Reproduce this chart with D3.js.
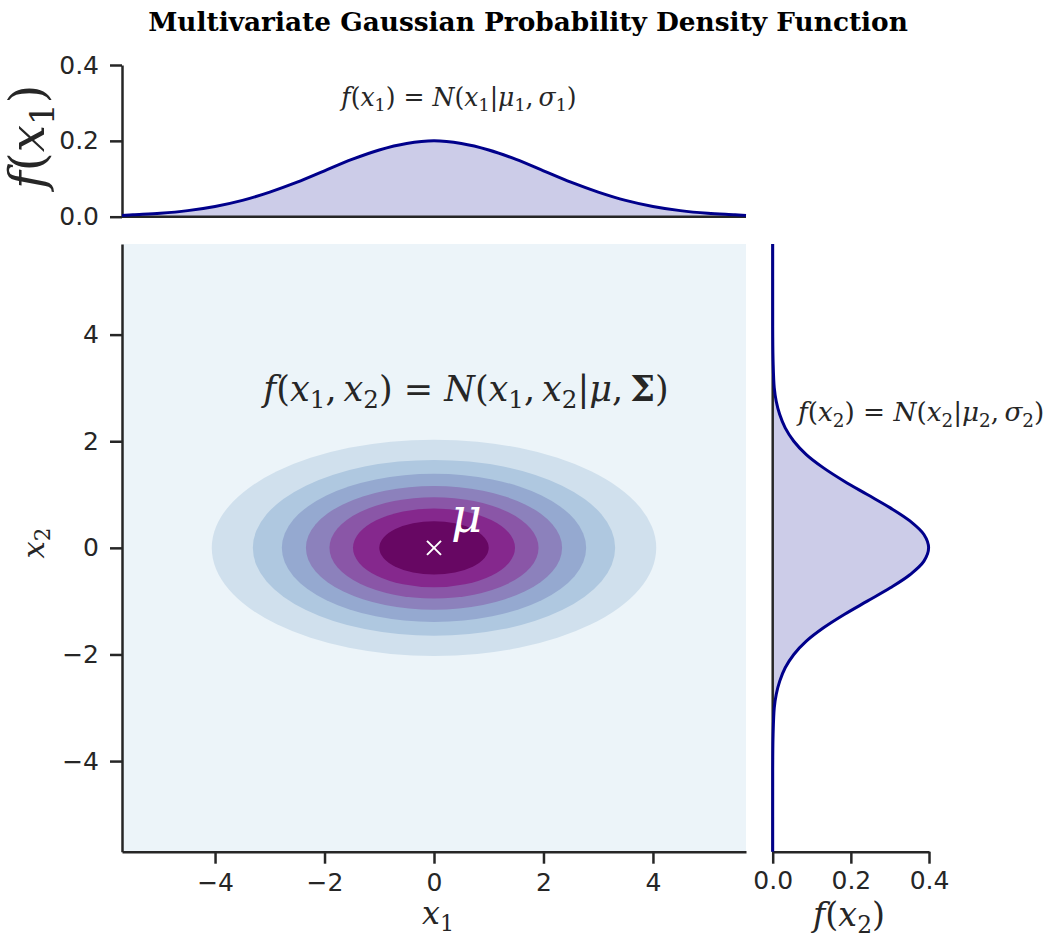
<!DOCTYPE html>
<html>
<head>
<meta charset="utf-8">
<script src="https://cdn.jsdelivr.net/npm/d3@7"></script>
<style>
  html, body { margin: 0; padding: 0; background: #ffffff; }
  svg { display: block; }
</style>
</head>
<body>
<svg id="chart" width="1053" height="938"></svg>
<script>
// ---- data ----------------------------------------------------------------
// density levels that bound the filled contour bands
const contourLevels = [0.00, 0.01, 0.02, 0.03, 0.04, 0.05, 0.06, 0.07, 0.08];
// half-width (along x1) and half-height (along x2) of each level's ellipse, levels 0.01 .. 0.07
const ellipseHalfX1 = [4.06, 3.31, 2.78, 2.34, 1.91, 1.48, 1.00];
const ellipseHalfX2 = [2.03, 1.65, 1.39, 1.16, 0.95, 0.74, 0.50];
const meanPoint = [0, 0];

// marginal density of x1
const x1Grid = [-5.7, -5.5, -5.0, -4.5, -4.0, -3.5, -3.0, -2.5, -2.0, -1.5, -1.0, -0.5, 0.0,
                0.5, 1.0, 1.5, 2.0, 2.5, 3.0, 3.5, 4.0, 4.5, 5.0, 5.5, 5.7];
const f1Values = [0.003, 0.005, 0.009, 0.016, 0.027, 0.043, 0.065, 0.091, 0.121, 0.151, 0.176, 0.193, 0.200,
                  0.193, 0.176, 0.151, 0.121, 0.091, 0.065, 0.043, 0.027, 0.016, 0.009, 0.005, 0.003];

// marginal density of x2
const x2Grid = [-5.7, -4.5, -4.0, -3.5, -3.0, -2.75, -2.5, -2.25, -2.0, -1.75, -1.5, -1.25, -1.0, -0.75, -0.5, -0.25, 0.0,
                0.25, 0.5, 0.75, 1.0, 1.25, 1.5, 1.75, 2.0, 2.25, 2.5, 2.75, 3.0, 3.5, 4.0, 4.5, 5.7];
const f2Values = [0.000, 0.000, 0.0001, 0.001, 0.004, 0.009, 0.018, 0.032, 0.054, 0.086, 0.130, 0.183, 0.242, 0.301, 0.352, 0.387, 0.399,
                  0.387, 0.352, 0.301, 0.242, 0.183, 0.130, 0.086, 0.054, 0.032, 0.018, 0.009, 0.004, 0.001, 0.0001, 0.000, 0.000];

const mainTicks = [-4, -2, 0, 2, 4];
const densityTicks = [0.0, 0.2, 0.4];
const bupuStops = ["#f7fcfd", "#e0ecf4", "#bfd3e6", "#9ebcda", "#8c96c6", "#8c6bb1", "#88419d", "#810f7c", "#4d004b"];

// ---- layout ---------------------------------------------------------------
const svg = d3.select("#chart");
const INK = "#262626";
const LINE = "#00008b";
const FILL = "#ccccE8";
const TICK_FONT = "'DejaVu Sans', sans-serif";
const MATH_FONT = "'DejaVu Serif', serif";
const THIN = "\u2009";

const main = { left: 122, right: 746, top: 244, bottom: 851.7 };
const topM = { top: 65, bottom: 216.7 };
const rightM = { left: 772.7, right: 929 };

const x = d3.scaleLinear().domain([-5.7, 5.7]).range([main.left, main.right]);
const y = d3.scaleLinear().domain([-5.7, 5.7]).range([main.bottom, main.top]);
const yTop = d3.scaleLinear().domain([0, 0.4]).range([topM.bottom, topM.top]);
const xRight = d3.scaleLinear().domain([0, 0.4]).range([rightM.left, rightM.right]);

// BuPu colormap: linear blend of the 9 ColorBrewer stops
const bupu = d3.scaleLinear()
  .domain(d3.range(bupuStops.length).map(i => i / (bupuStops.length - 1)))
  .range(bupuStops)
  .interpolate(d3.interpolateRgb);
const lvMin = d3.min(contourLevels), lvMax = d3.max(contourLevels);
const bandColor = i => bupu(((contourLevels[i] + contourLevels[i + 1]) / 2 - lvMin) / (lvMax - lvMin));

// ---- math-style text -------------------------------------------------------
// segments: [text, kind] with kind: "i" italic, "r" roman, "b" bold, "s" subscript
function mathText(g, segs, opts) {
  const t = g.append("text")
    .attr("font-family", MATH_FONT)
    .attr("font-size", opts.size)
    .attr("fill", opts.color || INK)
    .attr("text-anchor", opts.anchor || "middle")
    .attr("x", 0).attr("y", 0);
  let lowered = false;
  segs.forEach(([s, kind]) => {
    const sp = t.append("tspan").text(s);
    if (kind === "s") {
      sp.attr("font-size", "70%").attr("font-style", "normal");
      if (!lowered) { sp.attr("dy", "0.3em"); lowered = true; }
    } else {
      if (lowered) { sp.attr("dy", "-0.21em"); lowered = false; }
      if (kind === "i") sp.attr("font-style", "italic");
      if (kind === "b") sp.attr("font-weight", "bold");
    }
  });
  if (opts.width) {
    const w = t.node().getBBox().width;
    t.attr("font-size", opts.size * opts.width / w);
  }
  return t;
}

// ---- title -----------------------------------------------------------------
const title = svg.append("text")
  .attr("x", 528).attr("y", 31)
  .attr("text-anchor", "middle")
  .attr("font-family", MATH_FONT)
  .attr("font-weight", "bold")
  .attr("font-size", 22)
  .attr("fill", "#000")
  .text("Multivariate Gaussian Probability Density Function");
{
  const w = title.node().getBBox().width;
  title.attr("font-size", 22 * 760 / w);
}

// ---- joint density (filled contours) ---------------------------------------
const gMain = svg.append("g");
gMain.append("rect")
  .attr("x", x(-5.7)).attr("y", y(5.7))
  .attr("width", x(5.7) - x(-5.7)).attr("height", y(-5.7) - y(5.7))
  .attr("fill", bandColor(0));

ellipseHalfX1.forEach((hx, i) => {
  gMain.append("ellipse")
    .attr("cx", x(meanPoint[0])).attr("cy", y(meanPoint[1]))
    .attr("rx", x(meanPoint[0] + hx) - x(meanPoint[0]))
    .attr("ry", y(meanPoint[1]) - y(meanPoint[1] + ellipseHalfX2[i]))
    .attr("fill", bandColor(i + 1));
});

// mean marker
const mx = x(meanPoint[0]), my = y(meanPoint[1]);
gMain.append("path")
  .attr("d", `M${mx - 7},${my - 7}L${mx + 7},${my + 7}M${mx - 7},${my + 7}L${mx + 7},${my - 7}`)
  .attr("stroke", "#ffffff").attr("stroke-width", 2).attr("fill", "none");
mathText(gMain.append("g").attr("transform", `translate(${mx + 17},${my - 16})`),
  [["μ", "i"]], { size: 48, color: "#ffffff", anchor: "start", width: 31 });

mathText(gMain.append("g").attr("transform", "translate(466,401)"),
  [["f", "i"], ["(", "r"], ["x", "i"], ["1", "s"], ["," + THIN, "r"], ["x", "i"], ["2", "s"], [")", "r"],
   [" = ", "r"], ["N", "i"], ["(", "r"], ["x", "i"], ["1", "s"], ["," + THIN, "r"], ["x", "i"], ["2", "s"],
   ["|", "r"], ["μ", "i"], ["," + THIN, "r"], ["Σ", "b"], [")", "r"]],
  { size: 30, width: 408 });

// axes of the joint plot
function styleAxis(g) {
  g.selectAll(".domain").attr("stroke", INK).attr("stroke-width", 2.5);
  g.selectAll(".tick line").attr("stroke", INK).attr("stroke-width", 2.5);
  g.selectAll(".tick text").attr("fill", INK).attr("font-family", TICK_FONT).attr("font-size", 25);
}
svg.append("g").attr("transform", `translate(0,${main.bottom})`)
  .call(d3.axisBottom(x).tickValues(mainTicks).tickSize(12).tickSizeOuter(0).tickPadding(10))
  .call(styleAxis);
svg.append("g").attr("transform", `translate(${main.left},0)`)
  .call(d3.axisLeft(y).tickValues(mainTicks).tickSize(12).tickSizeOuter(0).tickPadding(11))
  .call(styleAxis);

mathText(svg.append("g").attr("transform", "translate(438,924)"),
  [["x", "i"], ["1", "s"]], { size: 30, width: 32 });
mathText(svg.append("g").attr("transform", "translate(44,543) rotate(-90)"),
  [["x", "i"], ["2", "s"]], { size: 30, width: 31 });

// ---- marginal density of x1 (top) ------------------------------------------
const gTop = svg.append("g");
const top1 = x1Grid.map((v, i) => [v, f1Values[i]]);
gTop.append("path")
  .datum(top1)
  .attr("fill", FILL)
  .attr("d", d3.area().x(d => x(d[0])).y0(yTop(0)).y1(d => yTop(d[1])).curve(d3.curveCatmullRom));
gTop.append("g").attr("transform", `translate(${main.left},0)`)
  .call(d3.axisLeft(yTop).tickValues(densityTicks).tickFormat(d3.format(".1f")).tickSize(12).tickSizeOuter(0).tickPadding(11))
  .call(styleAxis);
gTop.append("line")
  .attr("x1", main.left).attr("x2", main.right)
  .attr("y1", yTop(0)).attr("y2", yTop(0))
  .attr("stroke", INK).attr("stroke-width", 2.5);
gTop.append("path")
  .datum(top1)
  .attr("fill", "none").attr("stroke", LINE).attr("stroke-width", 3)
  .attr("d", d3.line().x(d => x(d[0])).y(d => yTop(d[1])).curve(d3.curveCatmullRom));

mathText(gTop.append("g").attr("transform", "translate(459,106)"),
  [["f", "i"], ["(", "r"], ["x", "i"], ["1", "s"], [")", "r"], [" = ", "r"], ["N", "i"], ["(", "r"],
   ["x", "i"], ["1", "s"], ["|", "r"], ["μ", "i"], ["1", "s"], ["," + THIN, "r"], ["σ", "i"], ["1", "s"], [")", "r"]],
  { size: 20, width: 238 });
mathText(gTop.append("g").attr("transform", `translate(44,${(topM.top + topM.bottom) / 2 - 4}) rotate(-90)`),
  [["f", "i"], ["(", "r"], ["x", "i"], ["1", "s"], [")", "r"]],
  { size: 40, width: 108 });

// ---- marginal density of x2 (right) ----------------------------------------
const gRight = svg.append("g");
const right2 = x2Grid.map((v, i) => [v, f2Values[i]]);
gRight.append("path")
  .datum(right2)
  .attr("fill", FILL)
  .attr("d", d3.area().y(d => y(d[0])).x0(xRight(0)).x1(d => xRight(d[1])).curve(d3.curveCatmullRom));
gRight.append("g").attr("transform", `translate(0,${main.bottom})`)
  .call(d3.axisBottom(xRight).tickValues(densityTicks).tickFormat(d3.format(".1f")).tickSize(12).tickSizeOuter(0).tickPadding(8))
  .call(styleAxis);
gRight.append("line")
  .attr("x1", xRight(0)).attr("x2", xRight(0))
  .attr("y1", main.top).attr("y2", main.bottom)
  .attr("stroke", INK).attr("stroke-width", 2.5);
gRight.append("path")
  .datum(right2)
  .attr("fill", "none").attr("stroke", LINE).attr("stroke-width", 3)
  .attr("d", d3.line().y(d => y(d[0])).x(d => xRight(d[1])).curve(d3.curveCatmullRom));

mathText(gRight.append("g").attr("transform", "translate(798,421)"),
  [["f", "i"], ["(", "r"], ["x", "i"], ["2", "s"], [")", "r"], [" = ", "r"], ["N", "i"], ["(", "r"],
   ["x", "i"], ["2", "s"], ["|", "r"], ["μ", "i"], ["2", "s"], ["," + THIN, "r"], ["σ", "i"], ["2", "s"], [")", "r"]],
  { size: 20, width: 249, anchor: "start" });
mathText(svg.append("g").attr("transform", "translate(849,926)"),
  [["f", "i"], ["(", "r"], ["x", "i"], ["2", "s"], [")", "r"]],
  { size: 32, width: 74 });
</script>
</body>
</html>
